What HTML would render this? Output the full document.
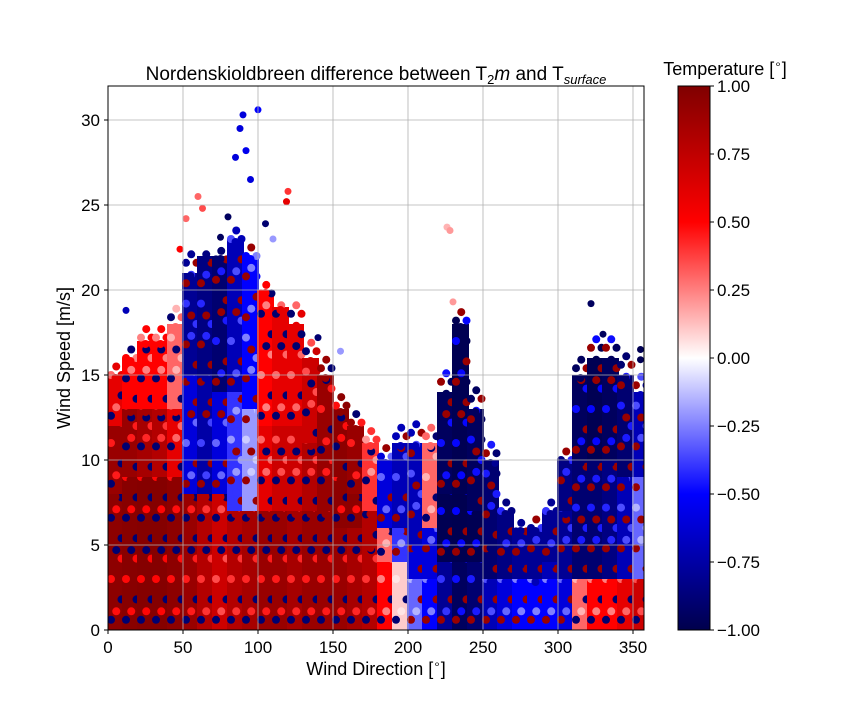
<!DOCTYPE html>
<html><head><meta charset="utf-8"><style>
body{margin:0;background:#fff}
text{font-family:"Liberation Sans",sans-serif;fill:#000}
</style></head><body>
<svg width="864" height="720">
<defs><linearGradient id="cb" x1="0" y1="1" x2="0" y2="0">
<stop offset="0" stop-color="#00004c"/><stop offset="0.25" stop-color="#0000ff"/><stop offset="0.5" stop-color="#ffffff"/><stop offset="0.75" stop-color="#ff0000"/><stop offset="1" stop-color="#800000"/></linearGradient>
<clipPath id="pc"><rect x="108" y="86" width="536" height="544"/></clipPath></defs>
<g id="marks" clip-path="url(#pc)"></g>
<g id="grid"></g>
<rect x="108" y="86" width="536" height="544" fill="none" stroke="#000" stroke-width="1"/>
<g id="axes"></g>
<text x="376" y="80" text-anchor="middle" font-size="19">Nordenskioldbreen difference between T<tspan font-size="13" dy="4">2</tspan><tspan dy="-4" font-style="italic">m</tspan> and T<tspan font-size="13" dy="4" font-style="italic">surface</tspan></text>
<text x="376" y="675" text-anchor="middle" font-size="18">Wind Direction [<tspan font-size="12" dy="-7">∘</tspan><tspan dy="7">]</tspan></text>
<text transform="translate(70,358) rotate(-90)" text-anchor="middle" font-size="18">Wind Speed [m/s]</text>
<rect x="678" y="86" width="32" height="544" fill="url(#cb)" stroke="#000"/>
<text x="725" y="75" text-anchor="middle" font-size="18">Temperature [<tspan font-size="12" dy="-7">∘</tspan><tspan dy="7">]</tspan></text>
<g id="cbt"></g>
</svg>
<script>
const dirBins=[0,10,20,30,40,50,60,70,80,90,100,110,120,130,140,150,160,170,180,190,200,210,220,230,240,250,260,270,280,290,300,310,320,330,340,350];
const lowTop=[8,9,9,9,9,8,8,8,7,7,7,7,7,7,7,6,6,5,4,4,3,3,4,4,4,3,3,3,3,3,3,3,3,3,3,3];
const midTop=[12,13,13,13,13,15,15,14,14,13,12,12,12,11,10,9,8,7,6,6,5,6,8,8,7,5,4,4,3,4,7,10,10,10,9,9];
const topSpd=[15,16,17,17,18,21,22,22,23,22,20,19,18,16,15,13,12,11,10,11,11,11,14,18,13,10,7,6,6,7,10,15,16,16,15,14];
const lowVal=[0.95,0.97,0.98,0.98,0.95,0.9,0.8,0.7,0.8,0.85,0.9,0.9,0.85,0.9,0.9,0.9,0.85,0.8,0.5,0.1,-0.3,-0.5,-0.8,-0.95,-0.9,-0.7,-0.6,-0.5,-0.5,-0.5,-0.6,0.3,0.5,0.5,0.6,0.7];
const midVal=[0.9,0.9,0.85,0.8,0.6,-0.6,-0.75,-0.6,-0.4,-0.2,0.6,0.7,0.7,0.8,0.9,0.95,0.95,0.8,0.3,-0.4,-0.6,-0.6,-0.98,-0.99,-0.98,-0.9,-0.85,-0.8,-0.7,-0.7,-0.8,-0.9,-0.9,-0.85,-0.7,-0.3];
const topVal=[0.6,0.5,0.5,0.5,0.3,-0.8,-0.85,-0.9,-0.7,-0.5,0.5,0.6,0.6,0.7,0.9,0.95,0.9,0.4,-0.6,-0.7,-0.7,0.3,-0.95,-0.98,-0.95,-0.9,-0.85,-0.8,-0.8,-0.8,-0.85,-0.95,-0.98,-0.95,-0.9,-0.7];
const outDir=[90,100,88,92,85,95,60,63,120,119,226,228,230,80,75,105,52,48,12,322,330,355,110,140,155,355,258];
const outSpd=[30.3,30.6,29.5,28.2,27.8,26.5,25.5,24.8,25.8,25.2,23.7,23.5,19.3,24.3,23.1,23.9,24.2,22.4,18.8,19.2,17.4,16.5,23.0,17.2,16.4,15.9,9.8];
const outVal=[-0.6,-0.5,-0.6,-0.55,-0.6,-0.6,0.3,0.35,0.4,0.6,0.15,0.2,0.2,-0.95,-0.95,-0.9,0.3,0.5,-0.7,-0.95,-0.95,-0.98,-0.2,-0.9,-0.2,-0.98,-0.8];
const xTicks=[0,50,100,150,200,250,300,350];
const yTicks=[0,5,10,15,20,25,30];
const cbTicks=[-1,-0.75,-0.5,-0.25,0,0.25,0.5,0.75,1];
const cbLabels=["\u22121.00","\u22120.75","\u22120.50","\u22120.25","0.00","0.25","0.50","0.75","1.00"];
const X=d=>108+d*1.5, Y=s=>630-s*17;
function cmap(v){v=Math.max(-1,Math.min(1,v));const t=(v+1)/2;const st=[[0,0,0,76],[0.25,0,0,255],[0.5,255,255,255],[0.75,255,0,0],[1,128,0,0]];
for(let i=0;i<4;i++){if(t<=st[i+1][0]){const f=(t-st[i][0])/(st[i+1][0]-st[i][0]);return 'rgb('+[1,2,3].map(k=>Math.round(st[i][k]+f*(st[i+1][k]-st[i][k]))).join(',')+')';}}return 'rgb(128,0,0)';}
const NS='http://www.w3.org/2000/svg';
function el(t,a,p){const e=document.createElementNS(NS,t);for(const k in a)e.setAttribute(k,a[k]);document.getElementById(p).appendChild(e);return e;}
dirBins.forEach((d,i)=>{
 const bands=[[0,lowTop[i],lowVal[i]],[lowTop[i],midTop[i],midVal[i]],[midTop[i],topSpd[i],topVal[i]]];
 bands.forEach((b,j)=>{
  const r=el('rect',{x:X(d)-1,y:Y(b[1]),width:17,height:Y(b[0])-Y(b[1]),fill:cmap(b[2])},'marks');
  
  
  for(let s=b[0];s<b[1];s+=1.2){for(let k=0;k<3;k++){
   const m=(k+Math.round(s*2))%4;
   const v=m===0?-Math.sign(b[2])*0.9:(m===1?b[2]*0.5:b[2]);
   const c=el('circle',{cx:X(d+2+k*3.5),cy:Y(s+0.6+(k%2)*0.5),r:4,fill:cmap(v)},'marks');
   
   
  }}
  const c=el('circle',{cx:X(d+5),cy:Y(b[1])+3,r:4,fill:cmap(b[2])},'marks');
  
  
 });
});
outDir.forEach((d,i)=>{const c=el('circle',{cx:X(d),cy:Y(outSpd[i]),r:3.5,fill:cmap(outVal[i])},'marks');
 
 });
xTicks.forEach(t=>{const l=el('line',{x1:X(t),x2:X(t),y1:86,y2:630,stroke:'#b0b0b0','stroke-width':0.8},'grid');
 
 el('line',{x1:X(t),x2:X(t),y1:630,y2:634,stroke:'#000'},'axes');
 const tx=el('text',{x:X(t),y:653,'text-anchor':'middle','font-size':17},'axes');tx.textContent=t;
 });
yTicks.forEach(t=>{const l=el('line',{x1:108,x2:644,y1:Y(t),y2:Y(t),stroke:'#b0b0b0','stroke-width':0.8},'grid');
 
 el('line',{x1:104,x2:108,y1:Y(t),y2:Y(t),stroke:'#000'},'axes');
 const tx=el('text',{x:100,y:Y(t)+6,'text-anchor':'end','font-size':17},'axes');tx.textContent=t;
 });
cbTicks.forEach((t,i)=>{const y=630-(t+1)/2*544;
 el('line',{x1:710,x2:714,y1:y,y2:y,stroke:'#000'},'cbt');
 const tx=el('text',{x:717,y:y+6,'font-size':17},'cbt');tx.textContent=cbLabels[i];
 });
</script>
</body></html>
